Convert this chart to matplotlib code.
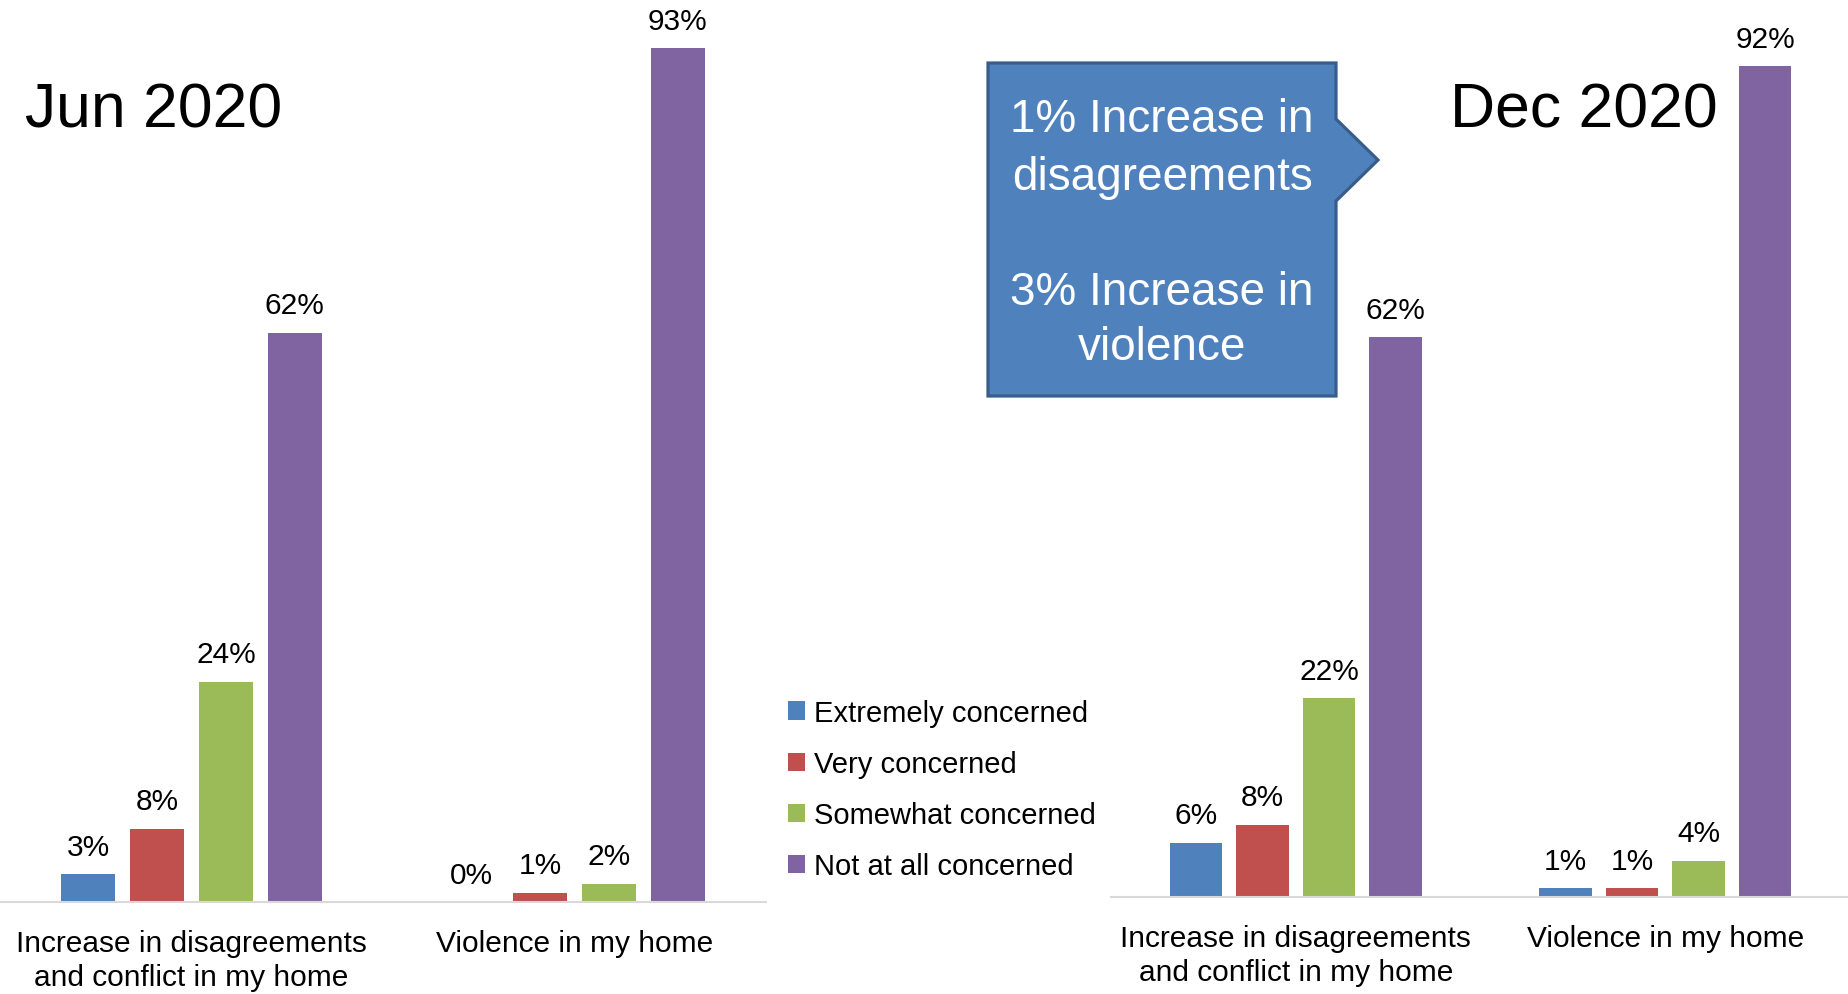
import numpy as np
import matplotlib.pyplot as plt
from matplotlib.patches import Polygon

plt.rcParams['font.family'] = ['Liberation Sans', 'DejaVu Sans']

categories = ['Increase in disagreements\nand conflict in my home', 'Violence in my home']
series = ['Extremely concerned', 'Very concerned', 'Somewhat concerned', 'Not at all concerned']
colors = ['#4F81BD', '#C0504D', '#9BBB59', '#8064A2']

# percent of respondents, one row per series, one column per category
jun_2020 = [[3, 0], [8, 1], [24, 2], [62, 93]]
dec_2020 = [[6, 1], [8, 1], [22, 4], [62, 92]]

callout_lines = ['1% Increase in', 'disagreements', '3% Increase in', 'violence']

W, H = 1848, 995
fig = plt.figure(figsize=(W / 100, H / 100), dpi=100)


def draw_panel(rect, values):
    ax = fig.add_axes(rect)
    x = np.arange(len(categories))
    pitch, width = 0.18, 0.142
    bars = []
    for i, (vals, col, name) in enumerate(zip(values, colors, series)):
        b = ax.bar(x + (i - 1.5) * pitch, vals, width=width, color=col, label=name)
        bars.append(b)
        for rect_, v in zip(b, vals):
            ax.annotate(f'{v}%', (rect_.get_x() + rect_.get_width() / 2, v),
                        xytext=(0, 14), textcoords='offset points',
                        ha='center', va='baseline', fontsize=21.5,
                        annotation_clip=False)
    ax.set_xlim(-0.5, 1.5)
    ax.set_ylim(0, 95)
    ax.set_xticks(x)
    ax.set_xticklabels(categories, fontsize=21.5, linespacing=1.28)
    ax.tick_params(axis='x', length=0, pad=19.5)
    ax.set_yticks([])
    for s in ['top', 'left', 'right']:
        ax.spines[s].set_visible(False)
    ax.spines['bottom'].set_color('#D9D9D9')
    ax.spines['bottom'].set_linewidth(1.5)
    ax.patch.set_alpha(0)
    return ax, bars


draw_panel([0, 1 - 903 / H, 766 / W, 95 * 9.18 / H], jun_2020)
ax2, bars2 = draw_panel([1111 / W, 1 - 898 / H, 739 / W, 95 * 9.03 / H], dec_2020)

fig.text(25 / W, 1 - 128 / H, 'Jun 2020', fontsize=45, va='baseline', ha='left')
fig.text(1450 / W, 1 - 128 / H, 'Dec 2020', fontsize=45, va='baseline', ha='left')

# callout box with arrow pointing right
pts = [(988, 64), (1336, 64), (1336, 120), (1378, 161), (1336, 202), (1336, 397), (988, 397)]
poly = Polygon([(px / W, 1 - py / H) for px, py in pts], closed=True,
               transform=fig.transFigure, facecolor='#4F81BD', edgecolor='#385D8A',
               linewidth=2.3, joinstyle='miter')
fig.patches.append(poly)
for line, base in zip(callout_lines, [132, 190, 305, 360]):
    fig.text(1162 / W, 1 - base / H, line, color='white', fontsize=33,
             ha='center', va='baseline')

fig.legend(handles=[b[0] for b in bars2], labels=series, loc='upper left',
           bbox_to_anchor=(787.5 / W, 1 - 700 / H), frameon=False, fontsize=21,
           handlelength=0.6, handleheight=0.6, handletextpad=0.3,
           labelspacing=0.79, borderpad=0, borderaxespad=0)

fig.savefig('out.png', dpi=100)
